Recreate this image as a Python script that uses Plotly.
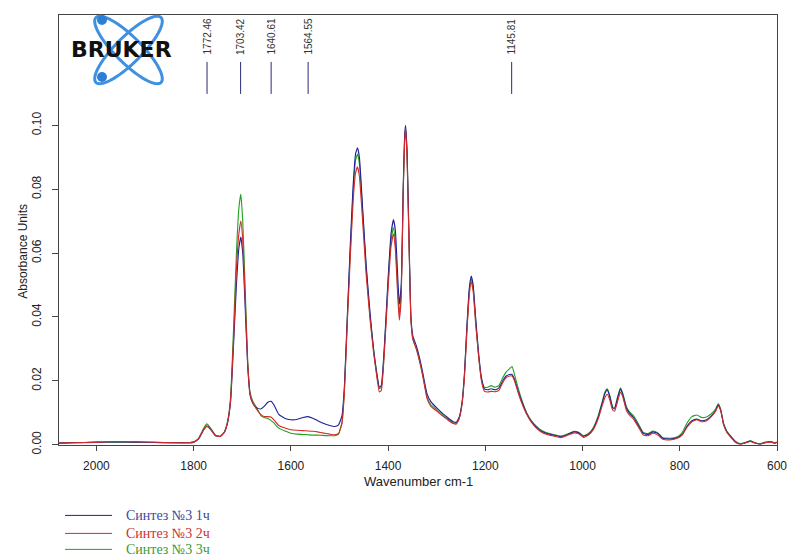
import numpy as np
import plotly.graph_objects as go

# ---------------- data ----------------
wavenumber = [2077, 2050, 2000, 1960, 1920, 1880, 1840, 1810, 1800, 1790, 1780, 1773, 1765, 1755, 1745,
              1737, 1730, 1724, 1718, 1712, 1707, 1703, 1699, 1694, 1689, 1684, 1678, 1670, 1662, 1655,
              1648, 1641, 1635, 1625, 1612, 1600, 1588, 1575, 1565, 1555, 1545, 1535, 1520, 1510, 1502,
              1495, 1490, 1484, 1478, 1472, 1467, 1463, 1459, 1452, 1445, 1437, 1430, 1423, 1418, 1414,
              1408, 1400, 1394, 1389, 1385, 1380, 1377, 1373, 1369, 1366, 1364, 1361, 1357, 1353, 1349,
              1342, 1335, 1328, 1320, 1312, 1300, 1288, 1275, 1266, 1260, 1254, 1248, 1243, 1238, 1233,
              1229, 1225, 1220, 1214, 1208, 1202, 1195, 1188, 1180, 1172, 1164, 1157, 1150, 1145, 1140,
              1133, 1125, 1115, 1105, 1095, 1085, 1075, 1060, 1045, 1030, 1018, 1008, 998, 988, 978,
              968, 960, 954, 949, 944, 938, 934, 928, 922, 917, 910, 903, 895, 885, 875,
              865, 855, 845, 835, 820, 805, 795, 785, 775, 765, 755, 745, 735, 727, 721,
              716, 710, 703, 695, 685, 675, 665, 655, 645, 635, 625, 613, 605, 600]

synth_1h = [0.0005, 0.0006, 0.0008, 0.0009, 0.0008, 0.0007, 0.0006, 0.0006, 0.0008, 0.0018, 0.0045, 0.0058, 0.0048, 0.0028, 0.0026,
            0.0038, 0.0070, 0.0135, 0.0310, 0.0500, 0.0615, 0.0650, 0.0600, 0.0430, 0.0250, 0.0155, 0.0128, 0.0115, 0.0112, 0.0120,
            0.0132, 0.0136, 0.0125, 0.0095, 0.0082, 0.0078, 0.0079, 0.0085, 0.0088, 0.0083, 0.0075, 0.0068, 0.0060, 0.0057, 0.0062,
            0.0090, 0.0180, 0.0400, 0.0620, 0.0810, 0.0910, 0.0930, 0.0900, 0.0730, 0.0560, 0.0410, 0.0300, 0.0220, 0.0180, 0.0185,
            0.0300, 0.0520, 0.0660, 0.0705, 0.0670, 0.0520, 0.0440, 0.0500, 0.0800, 0.0970, 0.1000, 0.0920, 0.0650, 0.0400, 0.0340,
            0.0310, 0.0270, 0.0220, 0.0160, 0.0135, 0.0115, 0.0098, 0.0082, 0.0072, 0.0070, 0.0085, 0.0130, 0.0220, 0.0370, 0.0490,
            0.0528, 0.0500, 0.0400, 0.0290, 0.0210, 0.0175, 0.0172, 0.0175, 0.0172, 0.0178, 0.0200, 0.0215, 0.0220, 0.0220, 0.0205,
            0.0170, 0.0135, 0.0098, 0.0072, 0.0055, 0.0042, 0.0036, 0.0030, 0.0025, 0.0032, 0.0040, 0.0037, 0.0026, 0.0032, 0.0050,
            0.0085, 0.0128, 0.0160, 0.0172, 0.0150, 0.0115, 0.0112, 0.0145, 0.0175, 0.0155, 0.0115, 0.0098, 0.0085, 0.0060, 0.0035,
            0.0032, 0.0040, 0.0035, 0.0020, 0.0018, 0.0022, 0.0032, 0.0058, 0.0075, 0.0080, 0.0075, 0.0078, 0.0090, 0.0105, 0.0125,
            0.0110, 0.0065, 0.0040, 0.0025, 0.0008, 0.0002, 0.0006, 0.0011, 0.0005, 0.0002, 0.0006, 0.0009, 0.0005, 0.0007]

synth_2h = [0.0005, 0.0006, 0.0008, 0.0010, 0.0009, 0.0008, 0.0006, 0.0006, 0.0008, 0.0018, 0.0045, 0.0058, 0.0048, 0.0028, 0.0026,
            0.0038, 0.0072, 0.0140, 0.0330, 0.0550, 0.0660, 0.0700, 0.0640, 0.0460, 0.0260, 0.0160, 0.0130, 0.0110, 0.0095, 0.0088,
            0.0088, 0.0087, 0.0078, 0.0060, 0.0052, 0.0047, 0.0045, 0.0044, 0.0043, 0.0042, 0.0040, 0.0037, 0.0033, 0.0031, 0.0035,
            0.0065, 0.0160, 0.0380, 0.0580, 0.0760, 0.0850, 0.0870, 0.0840, 0.0690, 0.0530, 0.0390, 0.0290, 0.0210, 0.0165, 0.0170,
            0.0280, 0.0490, 0.0620, 0.0660, 0.0610, 0.0460, 0.0390, 0.0460, 0.0780, 0.0950, 0.0990, 0.0900, 0.0630, 0.0390, 0.0330,
            0.0300, 0.0260, 0.0210, 0.0145, 0.0120, 0.0105, 0.0090, 0.0075, 0.0066, 0.0064, 0.0080, 0.0125, 0.0210, 0.0350, 0.0470,
            0.0510, 0.0480, 0.0380, 0.0280, 0.0200, 0.0168, 0.0165, 0.0167, 0.0166, 0.0170, 0.0195, 0.0210, 0.0215, 0.0215, 0.0200,
            0.0165, 0.0130, 0.0095, 0.0070, 0.0052, 0.0040, 0.0033, 0.0027, 0.0022, 0.0030, 0.0037, 0.0034, 0.0023, 0.0030, 0.0047,
            0.0080, 0.0120, 0.0148, 0.0158, 0.0140, 0.0108, 0.0105, 0.0135, 0.0165, 0.0148, 0.0108, 0.0092, 0.0080, 0.0055, 0.0030,
            0.0028, 0.0036, 0.0030, 0.0017, 0.0015, 0.0020, 0.0030, 0.0055, 0.0072, 0.0078, 0.0072, 0.0075, 0.0088, 0.0103, 0.0122,
            0.0108, 0.0063, 0.0038, 0.0023, 0.0007, 0.0002, 0.0005, 0.0010, 0.0005, 0.0002, 0.0006, 0.0008, 0.0005, 0.0007]

synth_3h = [0.0005, 0.0006, 0.0007, 0.0008, 0.0008, 0.0007, 0.0006, 0.0006, 0.0008, 0.0020, 0.0050, 0.0065, 0.0052, 0.0030, 0.0027,
            0.0040, 0.0075, 0.0150, 0.0360, 0.0600, 0.0740, 0.0785, 0.0700, 0.0490, 0.0270, 0.0165, 0.0135, 0.0115, 0.0092, 0.0085,
            0.0082, 0.0076, 0.0068, 0.0052, 0.0043, 0.0036, 0.0033, 0.0032, 0.0031, 0.0030, 0.0030, 0.0029, 0.0028, 0.0028, 0.0033,
            0.0070, 0.0170, 0.0390, 0.0600, 0.0790, 0.0890, 0.0910, 0.0880, 0.0720, 0.0550, 0.0400, 0.0300, 0.0220, 0.0175, 0.0180,
            0.0290, 0.0510, 0.0640, 0.0680, 0.0630, 0.0480, 0.0410, 0.0480, 0.0790, 0.0960, 0.0990, 0.0910, 0.0640, 0.0390, 0.0330,
            0.0300, 0.0260, 0.0210, 0.0150, 0.0125, 0.0110, 0.0093, 0.0078, 0.0068, 0.0066, 0.0082, 0.0130, 0.0220, 0.0360, 0.0480,
            0.0520, 0.0490, 0.0390, 0.0280, 0.0205, 0.0180, 0.0180, 0.0185, 0.0180, 0.0185, 0.0210, 0.0228, 0.0238, 0.0245, 0.0220,
            0.0180, 0.0140, 0.0100, 0.0075, 0.0058, 0.0045, 0.0038, 0.0032, 0.0027, 0.0034, 0.0042, 0.0039, 0.0028, 0.0035, 0.0053,
            0.0090, 0.0132, 0.0165, 0.0175, 0.0155, 0.0118, 0.0116, 0.0150, 0.0178, 0.0160, 0.0120, 0.0102, 0.0090, 0.0065, 0.0038,
            0.0035, 0.0043, 0.0037, 0.0022, 0.0020, 0.0025, 0.0038, 0.0068, 0.0088, 0.0093, 0.0085, 0.0087, 0.0097, 0.0110, 0.0128,
            0.0112, 0.0068, 0.0042, 0.0027, 0.0010, 0.0003, 0.0007, 0.0012, 0.0006, 0.0003, 0.0008, 0.0010, 0.0006, 0.0008]

series_names = ["Синтез №3 1ч", "Синтез №3 2ч", "Синтез №3 3ч"]
peak_labels = [1772.46, 1703.42, 1640.61, 1564.55, 1145.81]
x_ticks = [2000, 1800, 1600, 1400, 1200, 1000, 800, 600]
y_ticks = [0.00, 0.02, 0.04, 0.06, 0.08, 0.10]

# ---------------- layout helpers ----------------
W, H = 790, 560
ML, MR, MT, MB = 59, 13, 15, 114.5
PW = W - ML - MR
PH = H - MT - MB


def px_x(x):
    return (x - ML) / PW


def px_y(y):
    return (H - MB - y) / PH


line_colors = ["#1f1f9a", "#d42a2a", "#23a023"]
text_colors = ["#3a4aa0", "#cc3333", "#3a9a3a"]

fig = go.Figure()
series = [synth_1h, synth_2h, synth_3h]
for idx in [2, 0, 1]:
    fig.add_trace(go.Scatter(x=wavenumber, y=series[idx], mode="lines", name=series_names[idx],
                             line=dict(color=line_colors[idx], width=1.1, shape="spline", smoothing=0.4),
                             showlegend=False, hoverinfo="x+y+name"))

shapes = []
annotations = []

# peak marker lines and labels
for p in peak_labels:
    shapes.append(dict(type="line", xref="x", yref="paper", x0=p, x1=p,
                       y0=px_y(94), y1=px_y(62), line=dict(color="#2a2a7a", width=1)))
    annotations.append(dict(x=p, y=px_y(56), xref="x", yref="paper", text=f"{p:.2f}",
                            textangle=-90, showarrow=False, xanchor="center", yanchor="bottom",
                            borderpad=0,
                            font=dict(family="Liberation Sans, Arial", size=10, color="#333333")))

# axis titles
annotations.append(dict(x=px_x(418), y=px_y(482), xref="paper", yref="paper", text="Wavenumber cm-1",
                        showarrow=False, xanchor="center", yanchor="middle", borderpad=0,
                        font=dict(family="Liberation Sans, Arial", size=13, color="#222222")))
annotations.append(dict(x=px_x(23), y=px_y(252), xref="paper", yref="paper", text="Absorbance Units",
                        textangle=-90, showarrow=False, xanchor="center", yanchor="middle", borderpad=0,
                        font=dict(family="Liberation Sans, Arial", size=12, color="#222222")))

# legend (below the plot)
legend_y = [516, 534, 550]
for i in range(3):
    shapes.append(dict(type="line", xref="paper", yref="paper", x0=px_x(65), x1=px_x(112),
                       y0=px_y(legend_y[i]), y1=px_y(legend_y[i]),
                       line=dict(color=line_colors[i], width=1)))
    annotations.append(dict(x=px_x(125), y=px_y(legend_y[i]), xref="paper", yref="paper",
                            text=series_names[i], showarrow=False, xanchor="left", yanchor="middle",
                            borderpad=0,
                            font=dict(family="Liberation Serif, Times New Roman", size=14,
                                      color=text_colors[i])))

# BRUKER logo: two crossing orbits, two dots, text
cx, cy, a, b = 128.5, 50, 46, 13
t = np.linspace(0, 2 * np.pi, 73)
for ang in [np.deg2rad(45), np.deg2rad(-45)]:
    ex = cx + a * np.cos(t) * np.cos(ang) - b * np.sin(t) * np.sin(ang)
    ey = cy + a * np.cos(t) * np.sin(ang) + b * np.sin(t) * np.cos(ang)
    path = "M " + " L ".join(f"{px_x(u):.5f},{px_y(v):.5f}" for u, v in zip(ex, ey)) + " Z"
    shapes.append(dict(type="path", xref="paper", yref="paper", path=path,
                       line=dict(color="#3f90e0", width=3)))
for dx, dy in [(102, 20), (102, 77)]:
    r = 5
    shapes.append(dict(type="circle", xref="paper", yref="paper",
                       x0=px_x(dx - r), x1=px_x(dx + r), y0=px_y(dy + r), y1=px_y(dy - r),
                       fillcolor="#2b7fd6", line=dict(color="#2b7fd6", width=0)))
annotations.append(dict(x=px_x(121), y=px_y(50), xref="paper", yref="paper", text="<b>BRUKER</b>",
                        showarrow=False, xanchor="center", yanchor="middle", borderpad=0,
                        font=dict(family="DejaVu Sans", size=22, color="#111111")))

fig.update_layout(
    width=W, height=H, autosize=False,
    margin=dict(l=ML, r=MR, t=MT, b=MB, pad=0, autoexpand=False),
    paper_bgcolor="white", plot_bgcolor="white",
    showlegend=False,
    shapes=shapes, annotations=annotations,
    font=dict(family="Liberation Sans, Arial", size=12, color="#222222"),
    xaxis=dict(range=[2077, 600], tickvals=x_ticks, ticktext=[str(v) for v in x_ticks],
               ticks="outside", ticklen=5, tickcolor="#444444", showgrid=False, zeroline=False,
               showline=True, linecolor="#444444", linewidth=1, mirror=True, automargin=False,
               ticklabelstandoff=5, tickfont=dict(size=12, color="#222222")),
    yaxis=dict(range=[-0.0001, 0.13456], tickvals=y_ticks, ticktext=[f"{v:.2f}" for v in y_ticks],
               tickangle=-90, ticks="outside", ticklen=6, tickcolor="#444444", showgrid=False,
               zeroline=False, showline=True, linecolor="#444444", linewidth=1, mirror=True,
               automargin=False, ticklabelstandoff=6, tickfont=dict(size=12, color="#222222")),
)

fig.write_html("out.html", config={"responsive": False, "displayModeBar": False})
